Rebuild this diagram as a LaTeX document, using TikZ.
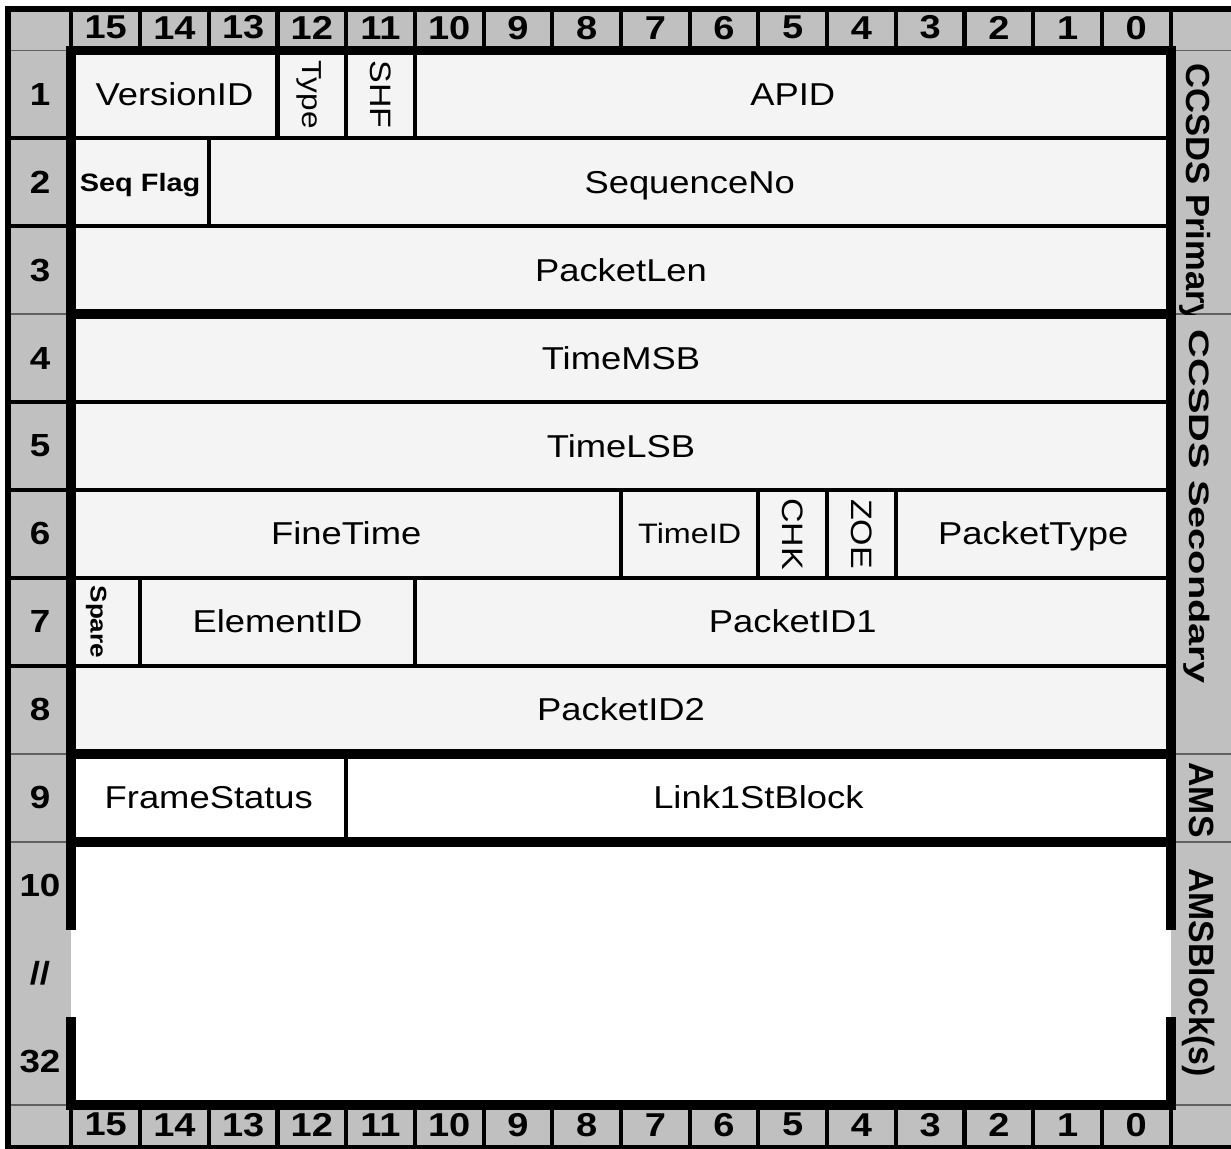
\documentclass[tikz,border=0pt]{standalone}
\usepackage{fontspec}
\setmainfont{Liberation Sans}[FakeStretch=1.15]
\usepackage{graphicx}

\definecolor{hdrgray}{RGB}{192,192,192}
\definecolor{cellgray}{RGB}{244,244,244}
\definecolor{sepgray}{RGB}{96,96,96}

\newcommand{\bitw}{1.374cm}
\newcommand{\rowh}{1.758cm}
\newcommand{\fsz}[1]{\fontsize{#1}{#1}\selectfont}
\newcommand{\vtext}[1]{\rotatebox{-90}{\rule[-0.212em]{0pt}{1.117em}#1}}

\begin{document}
\begin{tikzpicture}[x=\bitw, y=-\rowh,
  cell/.style={draw, line width=2.3pt, fill=cellgray, inner sep=0pt, minimum height=\rowh, font=\fsz{18}, text height=16.3pt, text depth=3.8pt},
  vcell/.style={draw, line width=2.3pt, fill=cellgray, inner sep=0pt, minimum height=\rowh, minimum width=\bitw, font=\fsz{16.8}},
  bitnum/.style={font=\bfseries\fsz{18.8}, inner sep=0pt},
  rownum/.style={font=\bfseries\fsz{18.2}, inner sep=0pt},
  side/.style={rotate=-90, anchor=base, inner sep=0pt},
  frame/.style={line width=5.6pt},
  divider/.style={line width=2.3pt},
  thinsep/.style={line width=1.1pt, draw=sepgray}]
	\useasboundingbox (-1.039,-0.5745) rectangle (16.879,12.486);
	\fill[white] (-1.039,-0.5745) rectangle (16.879,12.486);
	\fill[hdrgray] (-0.923,-0.472) rectangle (17.2,12.49);

	% CCSDS primary header
	\node[cell, minimum width=3*\bitw] (vid) at (1.5,0.5) {VersionID};
	\node[vcell, font=\fsz{15.6}] (type) at (3.5,0.5) {\vtext{Type}};
	\node[vcell] (shf) at (4.5,0.5) {\vtext{SHF}};
	\node[cell, minimum width=11*\bitw] (apid) at (10.5,0.5) {APID};
	\node[cell, minimum width=2*\bitw, font=\bfseries\fsz{14.3}, text height=12.9pt, text depth=3pt] (seqflag) at (1,1.5) {Seq Flag};
	\node[cell, minimum width=14*\bitw] (seqno) at (9,1.5) {SequenceNo};
	\node[cell, minimum width=16*\bitw] (pktlen) at (8,2.5) {PacketLen};

	% CCSDS secondary header
	\node[cell, minimum width=16*\bitw] (tmsb) at (8,3.5) {TimeMSB};
	\node[cell, minimum width=16*\bitw] (tlsb) at (8,4.5) {TimeLSB};
	\node[cell, minimum width=8*\bitw] (fine) at (4,5.5) {FineTime};
	\node[cell, minimum width=2*\bitw, font=\fsz{16}, text height=14.5pt, text depth=3.4pt] (timeid) at (9,5.5) {TimeID};
	\node[vcell] (chk) at (10.5,5.5) {\vtext{CHK}};
	\node[vcell] (zoe) at (11.5,5.5) {\vtext{ZOE}};
	\node[cell, minimum width=4*\bitw] (pkttype) at (14,5.5) {PacketType};
	\node[vcell, font=\bfseries\fsz{12.9}] (spare) at (0.5,6.5) {\rotatebox{-90}{\rule[-0.212em]{0pt}{1.75em}Spare}};
	\node[cell, minimum width=4*\bitw] (elemid) at (3,6.5) {ElementID};
	\node[cell, minimum width=11*\bitw] (pktid1) at (10.5,6.5) {PacketID1};
	\node[cell, minimum width=16*\bitw] (pktid2) at (8,7.5) {PacketID2};

	% AMS
	\node[cell, fill=white, minimum width=4*\bitw] (frmstat) at (2,8.5) {FrameStatus};
	\node[cell, fill=white, minimum width=12*\bitw] (link) at (10,8.5) {Link1StBlock};
	\fill[white] (0,9) rectangle (16,12);

	% grid lines
	\foreach \x in {0,...,16} {
		\draw[divider] (\x,-0.472) -- (\x,0);
		\draw[divider] (\x,12) -- (\x,12.49);
	}
	\foreach \y in {1,2,4,5,6,7} \draw[divider] (-0.923,\y) -- (0,\y);
	\foreach \y in {0,3,8,9,12} {
		\draw[thinsep] (-0.923,\y) -- (0,\y);
		\draw[thinsep] (16,\y) -- (17.2,\y);
	}
	\draw[frame] (0,10) -- (0,0) -- (16,0) -- (16,10);
	\draw[frame] (0,11) -- (0,12) -- (16,12) -- (16,11);
	\foreach \y in {3,8,9} \draw[frame] (0,\y) -- (16,\y);
	\draw[line width=3.4pt] (17.2,-0.472) -- (-0.923,-0.472) -- (-0.923,12.49) -- (17.2,12.49);

	% bit and word numbers
	\foreach \b [count=\i from 0] in {15,...,0} {
		\node[bitnum] (top\b) at (\i+0.5,-0.26) {\b};
		\node[bitnum] (bot\b) at (\i+0.5,12.22) {\b};
	}
	\foreach \r in {1,...,9} \node[rownum] (row\r) at (-0.457,\r-0.5) {\r};
	\node[rownum] (row10) at (-0.457,9.5) {10};
	\node[rownum] (rowgap) at (-0.457,10.5) {//};
	\node[rownum] (row32) at (-0.457,11.5) {32};

	% header names
	\begin{scope}
		\clip (16.1,0) rectangle (17.2,3);
		\node[side, font=\bfseries\fsz{19}, xscale=0.9] (primary) at (16.23,1.627) {CCSDS Primary};
	\end{scope}
	\node[side, font=\bfseries\fsz{16}, xscale=1.23] (secondary) at (16.28,5.19) {CCSDS Secondary};
	\node[side, font=\bfseries\fsz{19.9}, xscale=0.84] (ams) at (16.28,8.527) {AMS};
	\node[side, font=\bfseries\fsz{19.9}, xscale=0.84] (amsblocks) at (16.28,10.49) {AMSBlock(s)};
\end{tikzpicture}
\end{document}
